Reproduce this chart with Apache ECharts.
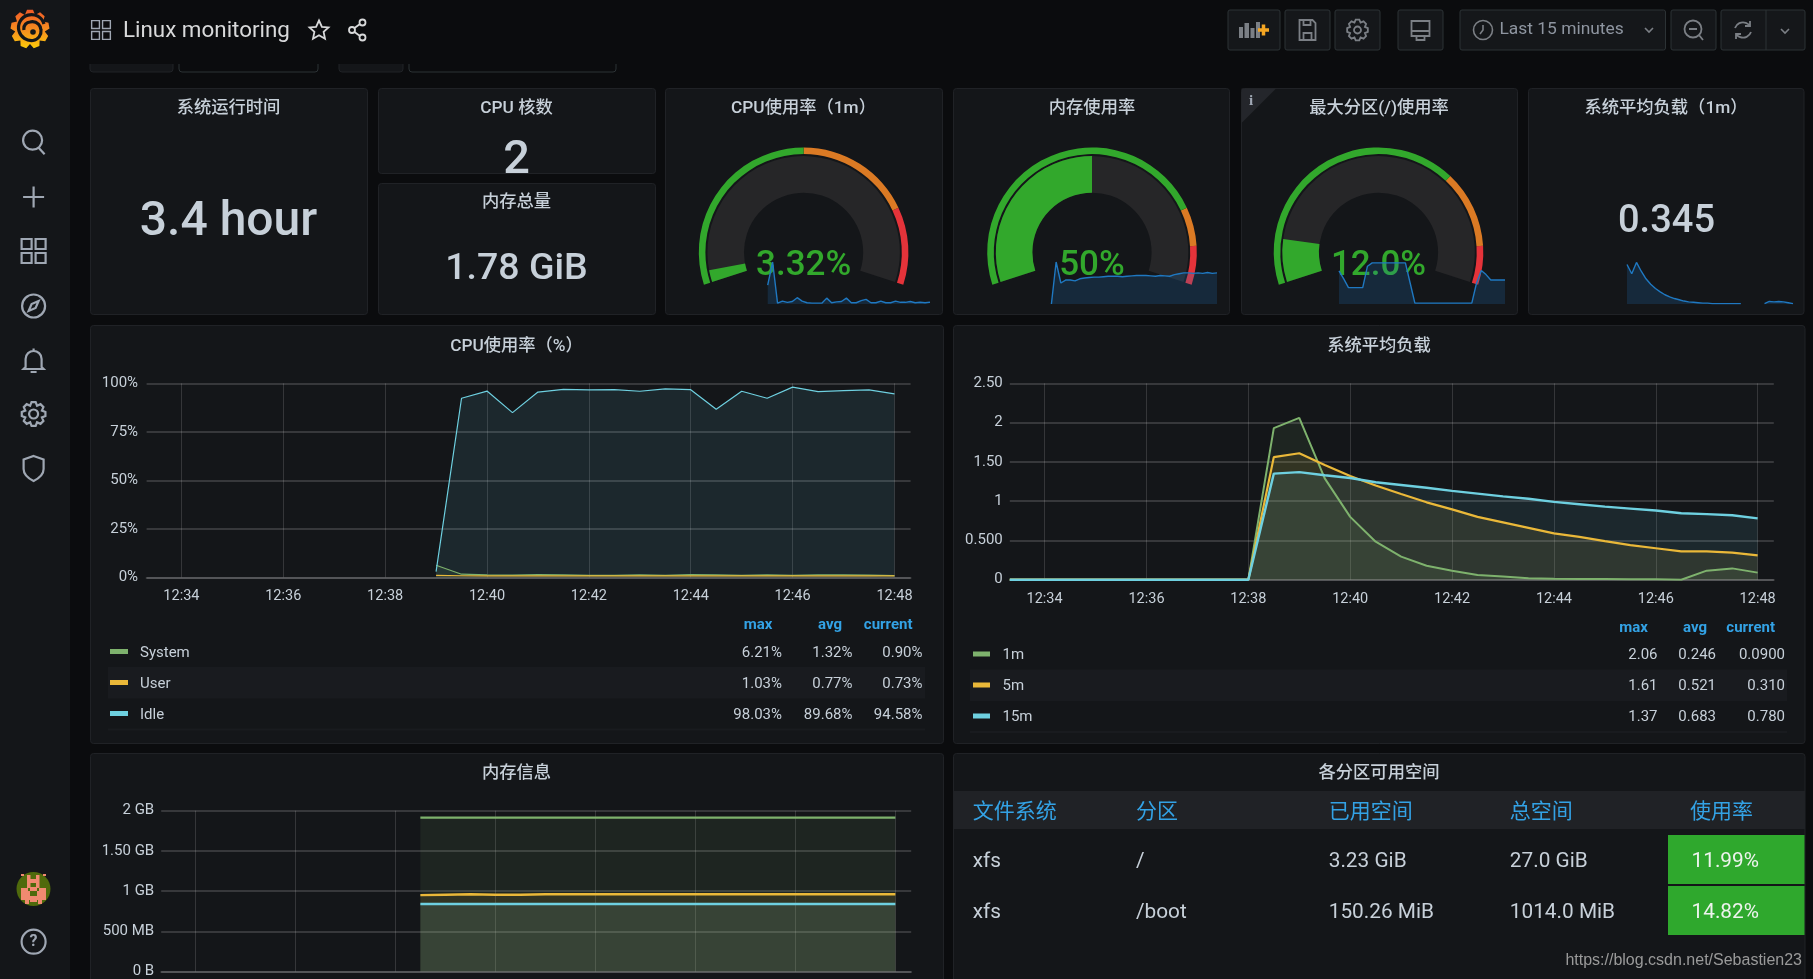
<!DOCTYPE html>
<html>
<head>
<meta charset="utf-8">
<title>Linux monitoring</title>
<style>
html,body{margin:0;padding:0;background:#0b0c0e;overflow:hidden}
#main{width:1813px;height:979px}
</style>
<script src="https://cdn.jsdelivr.net/npm/echarts@6/dist/echarts.min.js"></script>
</head>
<body>
<div id="main"></div>
<script>
// 数据
var cpuTimes = ["12:39:00","12:39:30","12:40:00","12:40:30","12:41:00","12:41:30","12:42:00","12:42:30","12:43:00","12:43:30","12:44:00","12:44:30","12:45:00","12:45:30","12:46:00","12:46:30","12:47:00","12:47:30","12:48:00"];
var cpuSystem = [6.21,1.6,1.2,1.1,1.4,1.2,1.0,1.0,1.2,1.0,1.4,1.3,1.0,1.2,1.0,1.3,1.2,1.1,0.9];
var cpuUser = [1.03,0.8,0.75,0.75,0.8,0.75,0.75,0.75,0.8,0.75,0.8,0.75,0.75,0.8,0.75,0.8,0.75,0.75,0.73];
var cpuIdle = [2.9,92.3,96,84.9,95.5,96.9,96.6,96.7,95.9,97.1,96.7,86.6,95.9,92.3,98.03,95.7,96.2,96.6,94.58];

var loadTimes = ["12:33:19","12:33:30","12:34:00","12:34:30","12:35:00","12:35:30","12:36:00","12:36:30","12:37:00","12:37:30","12:38:00","12:38:30","12:39:00","12:39:30","12:40:00","12:40:30","12:41:00","12:41:30","12:42:00","12:42:30","12:43:00","12:43:30","12:44:00","12:44:30","12:45:00","12:45:30","12:46:00","12:46:30","12:47:00","12:47:30","12:48:00"];
var load1m = [0,0,0,0,0,0,0,0,0,0,0,1.93,2.06,1.29,0.8,0.484,0.293,0.178,0.115,0.06,0.04,0.02,0.013,0.01,0.01,0.005,0.005,0,0.115,0.144,0.09];
var load5m = [0,0,0,0,0,0,0,0,0,0,0,1.56,1.61,1.46,1.32,1.2,1.09,0.985,0.895,0.8,0.73,0.66,0.59,0.545,0.49,0.44,0.4,0.36,0.36,0.345,0.31];
var load15m = [0,0,0,0,0,0,0,0,0,0,0,1.35,1.37,1.33,1.295,1.24,1.205,1.17,1.13,1.095,1.06,1.03,0.99,0.96,0.93,0.905,0.88,0.845,0.835,0.82,0.78];
var loadTickLabels = ["0","0.500","1","1.50","2","2.50"];

var memTimes = ["12:38:30","12:39:00","12:39:30","12:40:00","12:40:30","12:41:00","12:41:30","12:42:00","12:42:30","12:43:00","12:43:30","12:44:00","12:44:30","12:45:00","12:45:30","12:46:00","12:46:30","12:47:00","12:47:30","12:48:00"];
var memTotal = [1.914,1.914,1.914,1.914,1.914,1.914,1.914,1.914,1.914,1.914,1.914,1.914,1.914,1.914,1.914,1.914,1.914,1.914,1.914,1.914];
var memUsed = [0.95,0.955,0.96,0.955,0.955,0.96,0.96,0.96,0.96,0.96,0.96,0.96,0.96,0.96,0.96,0.96,0.96,0.96,0.96,0.96];
var memCache = [0.84,0.84,0.84,0.84,0.84,0.84,0.84,0.84,0.84,0.84,0.84,0.84,0.84,0.84,0.84,0.84,0.84,0.84,0.84,0.84];
var memTickLabels = ["0 B","500 MB","1 GB","1.50 GB","2 GB"];

var cpuLegendNames = ["System","User","Idle"];
var cpuLegendMax = ["6.21%","1.03%","98.03%"];
var cpuLegendAvg = ["1.32%","0.77%","89.68%"];
var cpuLegendCur = ["0.90%","0.73%","94.58%"];
var loadLegendNames = ["1m","5m","15m"];
var loadLegendMax = ["2.06","1.61","1.37"];
var loadLegendAvg = ["0.246","0.521","0.683"];
var loadLegendCur = ["0.0900","0.310","0.780"];

var gaugeValues = [3.32,50,12.0];
var gaugeLabels = ["3.32%","50%","12.0%"];
var gaugeStops = [[0.5,0.8],[0.8,0.9],[0.7,0.9]];

var sparkCpu = [45,100,2,7,4,6,15,7,3,2,2,2,14,3,5,6,14,3,3,8,11,3,3,7,3,3,7,4,4,6,3,4,3,4];
var sparkMem = [0,100,50,57,57,55,60,62,63,64,64,65,66,66,66,65,66,67,68,68,68,67,66,68,67,66,70,72,74,74,73,74,73,75,73,74];
var sparkDisk = [79,60,39,39,39,39,90,98,98,98,98,98,98,98,98,50,2,2,2,2,2,2,2,2,2,2,2,2,2,50,80,70,57,57,57,57];
var sparkLoad = [94,72,99,78,60,47,37,29,22,17,13,10,7,5,4,3,2,2,1,1,1,1,1,1,1,null,null,null,null,1,6,5,6,5,3,1];

var tableHeader = ["文件系统","分区","已用空间","总空间","使用率"];
var tableRows = [["xfs","/","3.23 GiB","27.0 GiB","11.99%"],["xfs","/boot","150.26 MiB","1014.0 MiB","14.82%"]];

// 样式
var FONT = "Roboto,'Noto Sans CJK SC',sans-serif";
var GREEN = "#7eb26d", YELLOW = "#eab839", CYAN = "#6ed0e0", BLUE = "#33a2e5";
var TEXT = "#c7d0d9", ICON = "#9fa7b3", TOOL = "#7b7f85", PANEL = "#141619", BORDER = "#202226";
var GAUGE_GREEN = "#32a82c", GAUGE_ORANGE = "#db7a24", GAUGE_RED = "#e5333a";

function t(s) {
  var p = s.split(":");
  return new Date(2020, 0, 1, +p[0], +p[1], +p[2]).getTime();
}
function pairs(times, vals) {
  return times.map(function (x, i) { return [t(x), vals[i]]; });
}

var els = [];
var iconCount = 0;
function rect(x, y, w, h, fill, stroke, r, z) {
  els.push({type: "rect", z: z == null ? -2 : z, silent: true,
    shape: {x: x, y: y, width: w, height: h, r: r || 0},
    style: {fill: fill, stroke: stroke || null, lineWidth: 1}});
}
// 中文字体的 middle 基线偏高,统一往下挪一点
function text(s, x, y, size, color, align, weight, family) {
  els.push({type: "text", z: 20, silent: true, x: x, y: y + 2.4,
    style: {text: s, fill: color || TEXT, align: align || "left", verticalAlign: "middle",
      font: (weight || 400) + " " + size + "px " + (family || FONT)}});
}
// graphic 组件没有 path 类型,这里把每个图标注册成一个形状
function icon(d, x, y, color, width, fill, scale, z) {
  var name = "icon" + (iconCount++);
  echarts.graphic.registerShape(name, echarts.graphic.extendPath(d, {}));
  els.push({type: name, z: z == null ? 20 : z, silent: true, x: x, y: y, scaleX: scale || 1, scaleY: scale || 1,
    style: {fill: fill || "none", stroke: color, lineWidth: width == null ? 2 : width}});
}
function gearPath(R, r, n) {
  var d = "", step = Math.PI * 2 / n;
  for (var i = 0; i < n; i++) {
    var a = i * step - Math.PI / 2;
    var pts = [[r, a - step * 0.5], [R, a - step * 0.22], [R, a + step * 0.22]];
    pts.forEach(function (p, j) {
      d += (i === 0 && j === 0 ? "M" : "L") + (p[0] * Math.cos(p[1])).toFixed(2) + " " + (p[0] * Math.sin(p[1])).toFixed(2) + " ";
    });
  }
  return d + "Z";
}
function circlePath(r) {
  return "M" + r + " 0 A" + r + " " + r + " 0 1 1 " + (-r) + " 0 A" + r + " " + r + " 0 1 1 " + r + " 0 Z";
}

// 侧边栏
rect(0, 0, 70, 979, PANEL, null, 0, -3);
var grafanaFill = new echarts.graphic.LinearGradient(0, 0, 0, 1, [{offset: 0, color: "#f05a28"}, {offset: 0.55, color: "#f7901e"}, {offset: 1, color: "#fbca0a"}]);
icon(gearPath(19.5, 15, 9), 30, 29, "none", 0, grafanaFill);
icon("M14 -5 A13 13 0 1 0 3 11.5 A9.5 9.5 0 0 0 11 1 A8.5 8.5 0 0 0 0 -7 A6.5 6.5 0 0 0 -6 1", 30, 29, PANEL, 3.2);
icon(circlePath(2.8), 33, 32, PANEL, 0, PANEL);
icon("M8.5 -1.5 A9.5 9.5 0 1 1 -10.5 -1.5 A9.5 9.5 0 1 1 8.5 -1.5 M5 6 L11 12.5", 33.6, 141.7, ICON, 2.2);
icon("M-10.5 0 L10.5 0 M0 -10.5 L0 10.5", 33.6, 197, ICON, 2.2);
var gridD = "M-12 -12 h10 v10 h-10 Z M2 -12 h10 v10 h-10 Z M-12 2 h10 v10 h-10 Z M2 2 h10 v10 h-10 Z";
icon(gridD, 33.6, 251, ICON, 2.2);
icon(circlePath(11.5) + " M5 -5 L-2 -2 L-5 5 L2 2 Z", 33.6, 306, ICON, 2.2);
icon("M-8 7 V-1 C-8 -6 -4 -9 0 -9 C4 -9 8 -6 8 -1 V7 L10 9 H-10 Z M-3 12 H3 M0 -9 V-11.5", 33.6, 360, ICON, 2.2);
icon(gearPath(12, 9, 8) + " " + circlePath(4.5), 33.6, 414, ICON, 2.2);
icon("M0 -12 L10 -8.5 V1 C10 7 5 10.5 0 13 C-5 10.5 -10 7 -10 1 V-8.5 Z", 33.6, 468, ICON, 2.2);
els.push({type: "circle", z: 20, silent: true, shape: {cx: 33.5, cy: 889, r: 17}, style: {fill: "#4f6a0c"}});
var avatarSalmon = [[27,875,3.5,13],[36,875,3.5,13],[27,879,12,4],[30,887,7,4],[21,888,7,12],[39,888,7,12],[28,891,2,9],[37,891,2,9],[30,896,7,6],[25,900,4,4],[38,900,4,4],[21,874,3,2],[43,874,3,2]];
avatarSalmon.forEach(function (p) {
  rect(p[0], p[1], p[2], p[3], "#f08a70", null, 0, 21);
});
icon(circlePath(12), 33.6, 941.7, ICON, 2.2);
text("?", 33.6, 939.6, 16, ICON, "center", 700);

// 顶栏下方被遮住的变量选择框
rect(90, 40, 83, 32, PANEL, BORDER, 3, -2);
rect(179, 40, 139, 32, "#0b0c0e", "#2c3235", 3, -2);
rect(339, 40, 64, 32, PANEL, BORDER, 3, -2);
rect(409, 40, 207, 32, "#0b0c0e", "#2c3235", 3, -2);
rect(70, 0, 1743, 64, "#0b0c0e", null, 0, -1);

// 顶栏
icon(gridD, 101, 30, ICON, 1.8, null, 0.78);
text("Linux monitoring", 123, 28.7, 22.4, "#d8d9da");
icon("M0 -9.5 L2.9 -3.2 L9.5 -2.6 L4.6 1.9 L6 8.7 L0 5.3 L-6 8.7 L-4.6 1.9 L-9.5 -2.6 L-2.9 -3.2 Z", 319, 30, "#d8d9da", 1.8);
icon(circlePath(3), 362.5, 22.5, "#d8d9da", 1.8);
icon(circlePath(3), 352, 30, "#d8d9da", 1.8);
icon(circlePath(3), 362.5, 37.5, "#d8d9da", 1.8);
icon("M354.5 28 L360 24 M354.5 32 L360 36", 0, 0, "#d8d9da", 1.8);
var BTN = "#2c3235";
rect(1228, 10, 52, 40, "#15171a", BTN, 2, 1);
rect(1285, 10, 45, 40, "#15171a", BTN, 2, 1);
rect(1335, 10, 45, 40, "#15171a", BTN, 2, 1);
rect(1398, 10, 45, 40, "#15171a", BTN, 2, 1);
rect(1460, 10, 205.5, 40, "#15171a", BTN, 2, 1);
rect(1671, 10, 45, 40, "#15171a", BTN, 2, 1);
rect(1721, 10, 84, 40, "#15171a", BTN, 2, 1);
icon("M1766 10 V50", 0, 0, BTN, 1);
icon("M1239 38 V27 H1243 V38 Z M1244.5 38 V23 H1249 V38 Z M1250.5 38 V28 H1254.5 V38 Z M1256 38 V22 H1260 V38 Z", 0, 0, TOOL, 0, TOOL);
icon("M1258 30 H1269 M1263.5 24.5 V35.5", 0, 0, "#f5a623", 3.5);
icon("M-8 -10 H5 L8 -7 V10 H-8 Z M-4 -10 V-5 H3 V-10 M-4 10 V3 H4 V10", 1307.5, 30, TOOL, 1.8);
icon(gearPath(10.5, 8, 8) + " " + circlePath(3.5), 1357.5, 30, TOOL, 1.8);
icon("M-9 -9 H9 V6 H-9 Z M-9 1 H9 M-4 6 V10 H4 V6", 1420.5, 30, TOOL, 1.8);
icon(circlePath(9.5) + " M0 -5 V0 L-3 4", 1483, 30, TOOL, 1.6);
text("Last 15 minutes", 1499.5, 27.3, 17.4, "#8e95a0");
icon("M-4 -2 L0 2 L4 -2", 1649, 30, TOOL, 1.6);
icon(circlePath(8.5) + " M-4 0 H4 M6 6 L10 11", 1693, 29, TOOL, 1.8);
icon("M-8 -2 A8.5 8.5 0 0 1 7 -4 M7 -9 V-4 H2 M8 2 A8.5 8.5 0 0 1 -7 4 M-7 9 V4 H-2", 1743, 30, TOOL, 1.8);
icon("M-4 -2 L0 2 L4 -2", 1785, 31, TOOL, 1.6);

// 面板
var panels = [
  [90.5,88.5,277,226],[378.5,88.5,277,85],[378.5,183.5,277,131],[665.5,88.5,277,226],[953.5,88.5,276,226],[1241.5,88.5,276,226],[1528.5,88.5,275.5,226],
  [90.5,325.5,853,418],[953.5,325.5,851.5,418],[90.5,753.5,853,240],[953.5,753.5,851.5,240]
];
panels.forEach(function (p) { rect(p[0], p[1], p[2], p[3], PANEL, BORDER, 3, 0); });
els.push({type: "polygon", z: 1, silent: true, shape: {points: [[1241.5,88.5],[1276,88.5],[1241.5,123]]}, style: {fill: "#24262b"}});
text("i", 1251, 98.5, 15, ICON, "center", 700, "'Liberation Serif',serif");

// 标题
[["系统运行时间",228.5,106.5],["CPU 核数",516.5,106.5],["内存总量",516.5,200.5],["CPU使用率（1m）",803.5,106.5],["内存使用率",1092,106.5],["最大分区(/)使用率",1379,106.5],["系统平均负载（1m）",1666,106.5],["CPU使用率（%）",516.5,344.5],["系统平均负载",1379,344.5],["内存信息",516.5,771],["各分区可用空间",1379,771]].forEach(function (a) {
  text(a[0], a[1], a[2], 17.3, TEXT, "center", 500);
});

// 大数字
text("3.4 hour", 228.5, 221, 48, TEXT, "center", 500);
text("2", 516.5, 159, 47, TEXT, "center", 500);
text("1.78 GiB", 516.5, 267, 37.5, TEXT, "center", 500);
text("0.345", 1666.5, 220.5, 38, TEXT, "center", 500);

// 图例
function legend(names, mx, avg, cur, colors, lay) {
  rect(lay.x0, lay.rows[1] - 15.5, lay.x1 - lay.x0, 31.5, "#191b1f", null, 0, 1);
  rect(lay.x0, lay.rows[2] + 15, lay.x1 - lay.x0, 2, "#191b1f", null, 0, 1);
  text("max", lay.head[0], lay.headY, 15, BLUE, "right", 700);
  text("avg", lay.head[1], lay.headY, 15, BLUE, "right", 700);
  text("current", lay.head[2], lay.headY, 15, BLUE, "right", 700);
  names.forEach(function (n, i) {
    var y = lay.rows[i];
    rect(lay.swatch, y - 2.5, lay.swatchW, 5, colors[i], null, 0, 2);
    text(n, lay.name, y - 0.8, 15, TEXT);
    text(mx[i], lay.cols[0], y - 0.8, 15, TEXT, "right");
    text(avg[i], lay.cols[1], y - 0.8, 15, TEXT, "right");
    text(cur[i], lay.cols[2], y - 0.8, 15, TEXT, "right");
  });
}
var lineColors = [GREEN, YELLOW, CYAN];
legend(cpuLegendNames, cpuLegendMax, cpuLegendAvg, cpuLegendCur, lineColors,
  {x0: 108, x1: 925, swatch: 110, swatchW: 18, name: 140, headY: 622.5, rows: [651.5,682.5,713.5], head: [772.5,842,912.5], cols: [782,852.5,922.5]});
legend(loadLegendNames, loadLegendMax, loadLegendAvg, loadLegendCur, lineColors,
  {x0: 970, x1: 1787, swatch: 973, swatchW: 17, name: 1002.5, headY: 625.5, rows: [654,685,716], head: [1648,1707,1775], cols: [1657.5,1716,1785]});

// 表格
var tableX = [972.7,1136,1328.7,1509.8,1690];
rect(954, 791, 851, 38, "#202226", null, 0, 1);
tableHeader.forEach(function (h, i) { text(h, tableX[i], 810, 21, BLUE); });
var tableY = [859.5,910.5], cellY = [835,886];
tableRows.forEach(function (row, r) {
  rect(1668, cellY[r], 136.5, 49, "#2fa82d", null, 0, 1);
  row.forEach(function (c, i) {
    text(c, i === 4 ? 1691.5 : tableX[i], tableY[r], 20.8, i === 4 ? "#eef3ee" : TEXT);
  });
});
text("https://blog.csdn.net/Sebastien23", 1802, 958.5, 16, "#9a9a9a", "right", 400, "'Liberation Sans',sans-serif");

// 折线图
var GRID_H = "rgba(255,255,255,0.15)", GRID_V = "rgba(255,255,255,0.14)";
function xAxisOf(g, showLabel) {
  return {type: "time", gridIndex: g, min: t("12:33:19"), max: t("12:48:19"), splitNumber: 6, z: 3,
    axisLine: {show: true, onZero: false, lineStyle: {color: GRID_H, width: 2}},
    axisTick: {show: false},
    splitLine: {show: true, showMinLine: false, showMaxLine: false, lineStyle: {color: GRID_V, width: 1}},
    axisLabel: {show: showLabel, margin: 12, color: TEXT, fontFamily: FONT, fontSize: 14.5, fontWeight: 400, showMinLabel: false, showMaxLabel: false,
      formatter: function (v) {
        var d = new Date(v), m = d.getMinutes();
        return d.getHours() + ":" + (m < 10 ? "0" + m : m);
      }}};
}
function yAxisOf(g, max, interval, fmt, margin) {
  return {type: "value", gridIndex: g, min: 0, max: max, interval: interval, z: 3,
    axisLine: {show: false}, axisTick: {show: false},
    splitLine: {show: true, lineStyle: {color: GRID_H, width: 2}},
    axisLabel: {margin: margin, color: TEXT, fontFamily: FONT, fontSize: 15, padding: [5, 0, 0, 0], formatter: fmt}};
}
function lineSeries(name, g, times, vals, color, width) {
  return {name: name, type: "line", xAxisIndex: g, yAxisIndex: g, data: pairs(times, vals),
    showSymbol: false, symbol: "none", lineStyle: {color: color, width: width},
    itemStyle: {color: color}, areaStyle: {color: color, opacity: 0.1}};
}
function sparkSeries(g, vals) {
  return {type: "line", xAxisIndex: g, yAxisIndex: g, data: vals, z: 6, symbol: "none",
    lineStyle: {color: "#1f78c1", width: 1.4}, areaStyle: {color: "#1f78c1", opacity: 0.2}};
}

var grids = [
  {left: 146.6, top: 383.3, width: 764, height: 194},
  {left: 1009.8, top: 383.3, width: 764, height: 196.4},
  {left: 161.2, top: 810.7, width: 750, height: 162.6},
  {left: 767.7, top: 262, width: 162.3, height: 42},
  {left: 1051.4, top: 262, width: 165.6, height: 42},
  {left: 1339, top: 262, width: 166, height: 42},
  {left: 1627, top: 262, width: 166, height: 42}
];
var xAxes = [xAxisOf(0, true), xAxisOf(1, true), xAxisOf(2, false)];
var yAxes = [
  yAxisOf(0, 100, 25, "{value}%", 8.5),
  yAxisOf(1, 2.5, 0.5, function (v) { return loadTickLabels[Math.round(v * 2)]; }, 7),
  yAxisOf(2, 2, 0.5, function (v) { return memTickLabels[Math.round(v * 2)]; }, 7)
];
[sparkCpu, sparkMem, sparkDisk, sparkLoad].forEach(function (vals, i) {
  xAxes.push({type: "category", gridIndex: i + 3, show: false, boundaryGap: false, data: vals.map(function (v, j) { return j; })});
  yAxes.push({type: "value", gridIndex: i + 3, show: false, min: 0, max: 100});
});

// 仪表盘
var gaugeCenters = [803.6, 1092, 1378.5];
var gaugeSeries = [];
gaugeValues.forEach(function (v, i) {
  var common = {type: "gauge", center: [gaugeCenters[i], 252.3], startAngle: 198, endAngle: -18, min: 0, max: 100,
    axisTick: {show: false}, splitLine: {show: false}, axisLabel: {show: false}, pointer: {show: false}, title: {show: false}, silent: true};
  gaugeSeries.push(Object.assign({}, common, {radius: 104.8, detail: {show: false}, data: [{value: 0}],
    axisLine: {lineStyle: {width: 6.6, color: [[gaugeStops[i][0], GAUGE_GREEN], [gaugeStops[i][1], GAUGE_ORANGE], [1, GAUGE_RED]]}}}));
  gaugeSeries.push(Object.assign({}, common, {radius: 96.2, data: [{value: v}],
    axisLine: {lineStyle: {width: 36.6, color: [[1, "#262628"]]}},
    progress: {show: true, width: 36.6, itemStyle: {color: GAUGE_GREEN}},
    detail: {show: true, offsetCenter: [0, 13.5], fontSize: 35, fontFamily: FONT, fontWeight: 500, color: GAUGE_GREEN,
      formatter: function () { return gaugeLabels[i]; }}}));
});

var option = {
  backgroundColor: "#0b0c0e",
  animation: false,
  tooltip: {show: false},
  grid: grids,
  xAxis: xAxes,
  yAxis: yAxes,
  graphic: {elements: els},
  series: gaugeSeries.concat([
    lineSeries("System", 0, cpuTimes, cpuSystem, GREEN, 1.2),
    lineSeries("User", 0, cpuTimes, cpuUser, YELLOW, 1.2),
    lineSeries("Idle", 0, cpuTimes, cpuIdle, CYAN, 1.2),
    lineSeries("1m", 1, loadTimes, load1m, GREEN, 2),
    lineSeries("5m", 1, loadTimes, load5m, YELLOW, 2.2),
    lineSeries("15m", 1, loadTimes, load15m, CYAN, 2.4),
    lineSeries("total", 2, memTimes, memTotal, GREEN, 2.4),
    lineSeries("used", 2, memTimes, memUsed, YELLOW, 2.4),
    lineSeries("cache", 2, memTimes, memCache, CYAN, 2.4),
    sparkSeries(3, sparkCpu),
    sparkSeries(4, sparkMem),
    sparkSeries(5, sparkDisk),
    sparkSeries(6, sparkLoad)
  ])
};

var myChart = echarts.init(document.getElementById("main"));
myChart.setOption(option);
</script>
</body>
</html>
